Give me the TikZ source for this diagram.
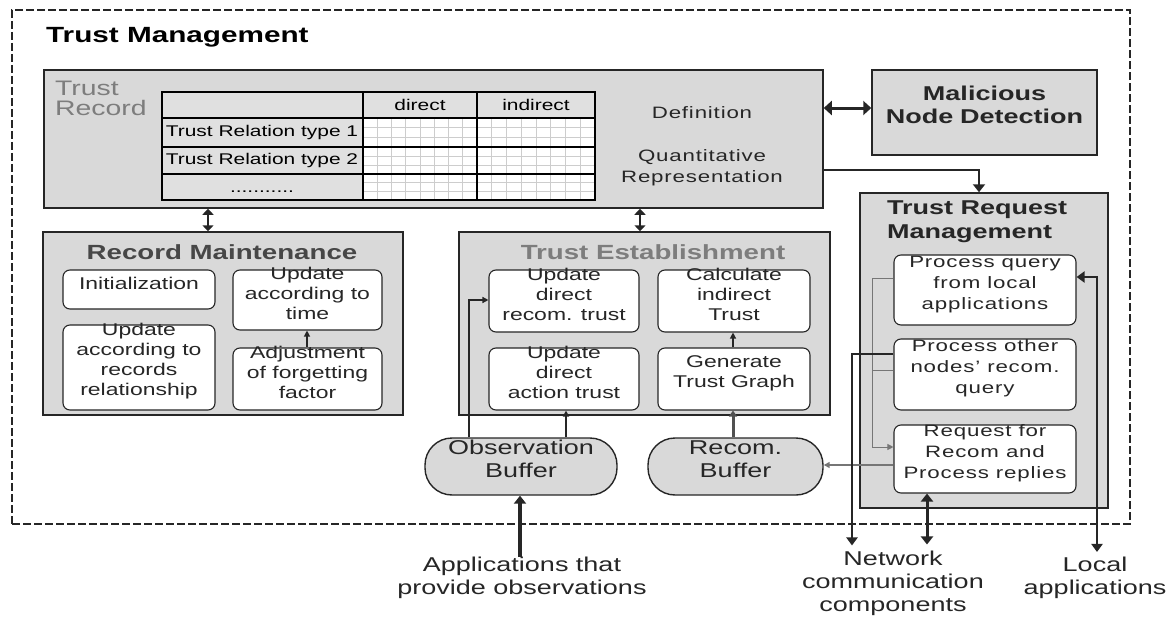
\documentclass[tikz,border=0pt]{standalone}
\usepackage{fontspec}
\setmainfont{Liberation Sans}[FakeStretch=1.35]
\usetikzlibrary{arrows.meta,fit}
\definecolor{boxgray}{RGB}{217,217,217}
\definecolor{cellgray}{RGB}{224,224,224}
\definecolor{ink}{RGB}{38,38,38}
\definecolor{midgray}{RGB}{118,118,118}
\definecolor{titlegray}{RGB}{125,125,125}
\definecolor{gridgray}{RGB}{205,205,205}
\newcommand\myfs[2]{\fontsize{#1}{#2}\selectfont}
\begin{document}
\begin{tikzpicture}[x=1pt,y=-1pt,
  graybox/.style={draw=ink, line width=1.5pt, fill=boxgray, inner sep=0pt},
  inbox/.style={draw=ink, line width=1.1pt, fill=white, rounded corners=7pt, inner sep=0pt, align=center, text=ink, font=\myfs{17}{20}},
  spaced/.style={font={\myfs{16.5}{21}\addfontfeatures{LetterSpace=5}}},
  pill/.style={draw=ink, line width=1.4pt, fill=boxgray, rounded corners=27pt, inner sep=0pt, align=center, text=ink, font=\myfs{20}{23}},
  boxtitle/.style={font=\myfs{20.5}{24}\bfseries, inner sep=0pt},
  dbl/.style={{Triangle[width=11pt,length=6pt]}-{Triangle[width=11pt,length=6pt]}, line width=2.6pt, draw=ink},
  arr/.style={-{Triangle[width=12pt,length=8pt]}, line width=2.6pt, draw=ink},
  thinarr/.style={-{Triangle[width=6pt,length=6pt]}, line width=1.2pt, draw=ink},
  grayarr/.style={-{Triangle[width=6pt,length=6pt]}, line width=1pt, draw=midgray},
  labeltext/.style={align=center, text=ink, font=\myfs{20}{23}, inner sep=0pt}
]
\useasboundingbox (0,0) rectangle (1176,618);

% outer frame
\node[draw=ink, dashed, dash pattern=on 8pt off 3pt, line width=1.4pt, fit={(12,10) (1130,524)}, inner sep=0pt] (frame) {};
\node[anchor=west, font=\myfs{22}{26}\bfseries, text=black, inner sep=0pt] (title) at (46,37) {Trust Management};

% trust record
\node[graybox, fit={(44,70) (823,208)}] (tr) {};
\node[anchor=north west, align=left, text=titlegray, font=\myfs{21}{20}, inner sep=0pt] (trt) at (55,81) {Trust\\Record};

% table
\fill[cellgray] (162,92) rectangle (595,200);
\fill[white] (363,118) rectangle (595,200);
\foreach \xa/\xb in {363/477,477/595}{
  \foreach \i in {1,...,7}
    \draw[gridgray, line width=0.7pt] ({\xa+\i*(\xb-\xa)/8},118) -- ({\xa+\i*(\xb-\xa)/8},200);
}
\foreach \ya/\yb in {118/147,147/174,174/200}{
  \foreach \j in {1,2}
    \draw[gridgray, line width=0.7pt] (363,{\ya+\j*(\yb-\ya)/3}) -- (595,{\ya+\j*(\yb-\ya)/3});
}
\draw[black, line width=1.5pt] (162,118) -- (595,118) (162,147) -- (595,147) (162,174) -- (595,174)
  (363,92) -- (363,200) (477,92) -- (477,200);
\draw[black, line width=2.4pt] (162,92) rectangle (595,200);
\node[font=\myfs{15.5}{18}, text=black, inner sep=0pt] (r1) at (262,132.5) {Trust Relation type 1};
\node[font=\myfs{15.5}{18}, text=black, inner sep=0pt] (r2) at (262,160.5) {Trust Relation type 2};
\node[font=\myfs{15.5}{18}, text=black, inner sep=0pt, anchor=base] (r3) at (262,192) {...........};
\node[font=\myfs{15.5}{18}, text=black, inner sep=0pt] (hd) at (420,105) {direct};
\node[font=\myfs{15.5}{18}, text=black, inner sep=0pt] (hi) at (536,105) {indirect};

\node[spaced, text=ink, inner sep=0pt] (def) at (702,113) {Definition};
\node[spaced, text=ink, inner sep=0pt, align=center] (qr) at (702,168) {Quantitative\\Representation};

% malicious node detection
\node[graybox, fit={(872,70) (1097,155)}, align=center, font=\myfs{20}{23}\bfseries, text=ink] (mnd) {Malicious\\Node Detection};

% record maintenance
\node[graybox, fit={(43,232) (403,415)}] (rm) {};
\node[boxtitle, text=ink!85!white] (rmt) at (222,252) {Record Maintenance};
\node[inbox, fit={(63,270) (215,309)}] (init) {Initialization};
\node[inbox, fit={(233,270) (382,330)}] (updt) {Update\\according to\\time};
\node[inbox, fit={(63,325) (215,410)}] (updr) {Update\\according to\\records\\relationship};
\node[inbox, fit={(233,348) (382,410)}] (adj) {Adjustment\\of forgetting\\factor};
\draw[thinarr] (adj.north -| 307,0) -- (updt.south -| 307,0);

% trust establishment
\node[graybox, fit={(459,232) (830,415)}] (te) {};
\node[boxtitle, text=titlegray] (tet) at (653,252) {Trust Establishment};
\node[inbox, fit={(489,270) (639,332)}] (udr) {Update\\direct\\recom. trust};
\node[inbox, fit={(658,270) (810,332)}] (cit) {Calculate\\indirect\\Trust};
\node[inbox, fit={(489,348) (639,410)}] (uda) {Update\\direct\\action trust};
\node[inbox, fit={(658,348) (810,410)}] (gtg) {Generate\\Trust Graph};
\draw[thinarr] (gtg.north -| 733,0) -- (cit.south -| 733,0);

% trust request management
\node[graybox, fit={(860,193) (1108,508)}] (trm) {};
\node[anchor=north west, align=left, font=\myfs{20}{24}\bfseries, text=ink, inner sep=0pt] (trmt) at (887,201) {Trust Request\\Management};
\node[inbox, spaced, fit={(894,255) (1076,325)}] (pq) {Process query\\from local\\applications};
\node[inbox, spaced, fit={(894,339) (1076,410)}] (po) {Process other\\nodes' recom.\\query};
\node[inbox, spaced, fit={(894,425) (1076,493)}] (rr) {Request for\\Recom and\\Process replies};

% buffers
\node[pill, fit={(425,438) (617,495)}] (ob) {Observation\\Buffer};
\node[pill, fit={(648,438) (823,495)}] (rb) {Recom.\\Buffer};

% outside labels
\node[labeltext] (apps) at (522,578) {Applications that\\provide observations};
\node[labeltext] (net) at (893,583) {Network\\communication\\components};
\node[labeltext] (loc) at (1095,578) {Local\\applications};

% connectors
\draw[dbl, line width=3pt, {Triangle[width=14pt,length=8pt]}-{Triangle[width=14pt,length=8pt]}] (tr.east |- 0,108) -- (mnd.west |- 0,108);
\draw[arr] (tr.east |- 0,170) -| (trm.north -| 979,0);
\draw[dbl] (tr.south -| 208,0) -- (rm.north -| 208,0);
\draw[dbl] (tr.south -| 640,0) -- (te.north -| 640,0);

\draw[thinarr, line width=1.4pt] (ob.north -| 469,0) |- (udr.west |- 0,300);
\draw[thinarr, line width=1.8pt] (ob.north -| 566,0) -- (uda.south -| 566,0);
\draw[thinarr, line width=3pt, draw=ink!80!white, -{Triangle[width=8pt,length=6pt]}] (rb.north -| 733,0) -- (gtg.south -| 733,0);
\draw[arr, line width=3.2pt] (apps.north -| 520,0) -- (ob.south -| 520,0);

\draw[grayarr, line width=1.5pt] (rr.west |- 0,465) -- (rb.east |- 0,465);
\draw[line width=1pt, draw=midgray] (pq.west |- 0,278) -- (872,278);
\draw[line width=1pt, draw=midgray] (po.west |- 0,370) -- (872,370);
\draw[grayarr] (872,278) |- (rr.west |- 0,447);
\draw[arr, line width=2pt, -{Triangle[width=11pt,length=8pt]}] (po.west |- 0,354) -| ([yshift=5pt]net.north -| 852,0);
\draw[dbl, line width=3pt, {Triangle[width=12pt,length=8pt]}-{Triangle[width=12pt,length=8pt]}] (rr.south -| 927,0) -- ([yshift=6pt]net.north -| 927,0);
\draw[dbl, line width=2pt, {Triangle[width=11pt,length=8pt]}-{Triangle[width=11pt,length=8pt]}] (pq.east |- 0,277) -| ([yshift=5pt]loc.north -| 1097,0);
\end{tikzpicture}
\end{document}
